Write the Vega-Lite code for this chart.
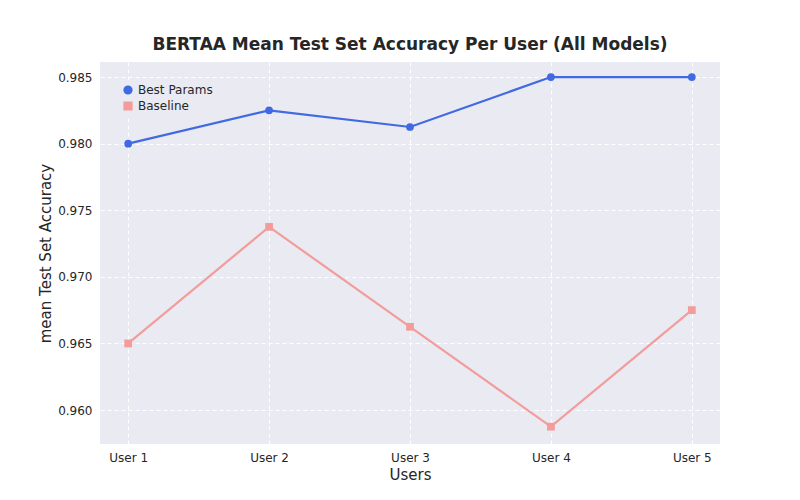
{
  "$schema": "https://vega.github.io/schema/vega-lite/v6.json",
  "autosize": "none",
  "padding": {"left": 100, "top": 62, "right": 80, "bottom": 56},
  "width": 620,
  "height": 382,
  "title": {"text": "BERTAA Mean Test Set Accuracy Per User (All Models)", "fontSize": 17, "font": "DejaVu Sans", "fontWeight": "bold", "color": "#262626", "offset": 8},
  "data": {"values": [
    {"user": "User 1", "series": "Best Params", "acc": 0.980},
    {"user": "User 2", "series": "Best Params", "acc": 0.9825},
    {"user": "User 3", "series": "Best Params", "acc": 0.98125},
    {"user": "User 4", "series": "Best Params", "acc": 0.985},
    {"user": "User 5", "series": "Best Params", "acc": 0.985},
    {"user": "User 1", "series": "Baseline", "acc": 0.965},
    {"user": "User 2", "series": "Baseline", "acc": 0.97375},
    {"user": "User 3", "series": "Baseline", "acc": 0.96625},
    {"user": "User 4", "series": "Baseline", "acc": 0.95875},
    {"user": "User 5", "series": "Baseline", "acc": 0.9675}
  ]},
  "encoding": {
    "x": {"field": "user", "type": "ordinal", "scale": {"type": "point", "padding": 0.2},
      "axis": {"title": "Users", "labelAngle": 0, "titleFontSize": 15, "labelFontSize": 12, "titleFontWeight": "normal"}},
    "y": {"field": "acc", "type": "quantitative", "scale": {"domain": [0.95745, 0.98613], "nice": false, "zero": false},
      "axis": {"title": "mean Test Set Accuracy", "values": [0.960, 0.965, 0.970, 0.975, 0.980, 0.985], "format": ".3f", "titleFontSize": 15, "labelFontSize": 12, "titleFontWeight": "normal"}},
    "color": {"field": "series", "type": "nominal", "scale": {"domain": ["Best Params", "Baseline"], "range": ["#4169E1", "#F29C9C"]},
      "legend": {"title": null, "orient": "top-left", "labelFontSize": 12, "symbolSize": 60, "fillColor": "#EAEAF2", "padding": 4}},
    "shape": {"field": "series", "type": "nominal", "scale": {"domain": ["Best Params", "Baseline"], "range": ["circle", "square"]}}
  },
  "layer": [
    {"mark": {"type": "line", "strokeWidth": 2.2}, "encoding": {"shape": {"value": "circle"}, "detail": {"field": "series"}}},
    {"mark": {"type": "point", "filled": true, "size": 60, "opacity": 1}}
  ],
  "config": {
    "font": "DejaVu Sans",
    "view": {"fill": "#EAEAF2", "stroke": null},
    "axis": {"grid": true, "gridColor": "#FFFFFF", "gridDash": [4, 3], "gridWidth": 1, "domain": false, "ticks": false, "labelColor": "#262626", "titleColor": "#262626", "labelPadding": 8},
    "legend": {"labelColor": "#262626"}
  }
}
